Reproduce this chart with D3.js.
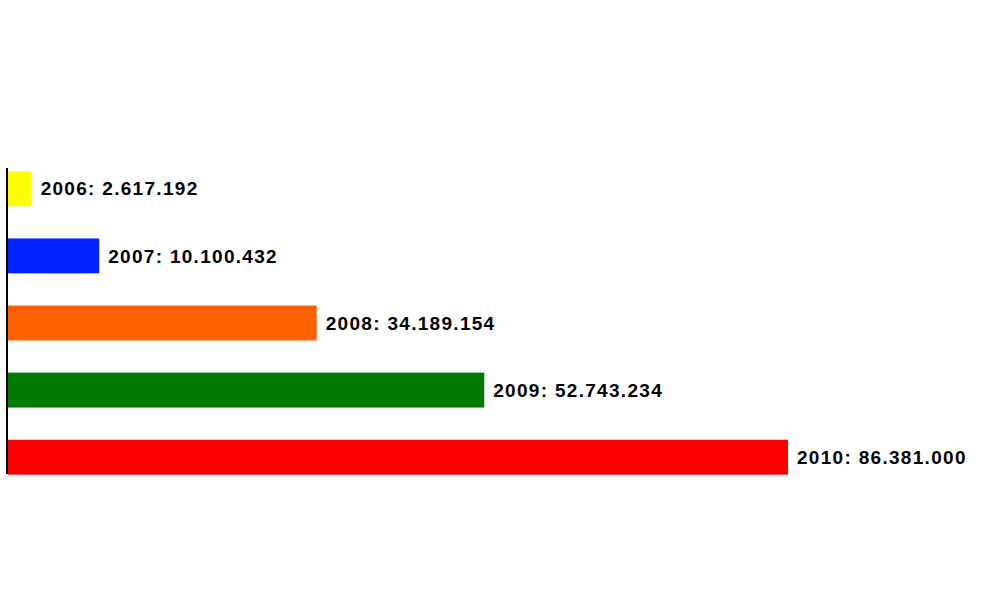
<!DOCTYPE html>
<html><head><meta charset="utf-8">
<script src="https://cdn.jsdelivr.net/npm/d3@7"></script>
<style>body{margin:0;background:#fff}</style>
</head><body>
<svg id="c" width="984" height="616"></svg>
<script>
const years = ["2006","2007","2008","2009","2010"];
const values = [2617192, 10100432, 34189154, 52743234, 86381000];
const labels = ["2.617.192","10.100.432","34.189.154","52.743.234","86.381.000"];
const colors = ["#ffff00","#0022ff","#ff6000","#007a00","#ff0000"];

const svg = d3.select("#c");
const x = d3.scaleLinear().domain([0, 86381000]).range([8, 788]);
const y = d3.scaleBand().domain(years).range([170, 476]).paddingInner(0.48).paddingOuter(0.02);

svg.selectAll("rect").data(years).join("rect")
  .attr("x", x(0)).attr("y", d => y(d))
  .attr("width", (d,i) => Math.max(x(values[i]) - x(0), 0))
  .attr("height", y.bandwidth())
  .attr("fill", (d,i) => colors[i]);

svg.selectAll("text.l").data(years).join("text")
  .attr("x", (d,i) => x(values[i]) + 9)
  .attr("y", d => y(d) + y.bandwidth()/2)
  .attr("dy", "0.35em")
  .attr("font-family", "Liberation Sans, Arial, sans-serif")
  .attr("font-weight", "bold").attr("font-size", 19)
  .attr("letter-spacing", "1.3px")
  .text((d,i) => d + ": " + labels[i]);

svg.append("line").attr("x1", 7).attr("x2", 7)
  .attr("y1", 168).attr("y2", 474).attr("stroke", "#000").attr("stroke-width", 2);
</script>
</body></html>
